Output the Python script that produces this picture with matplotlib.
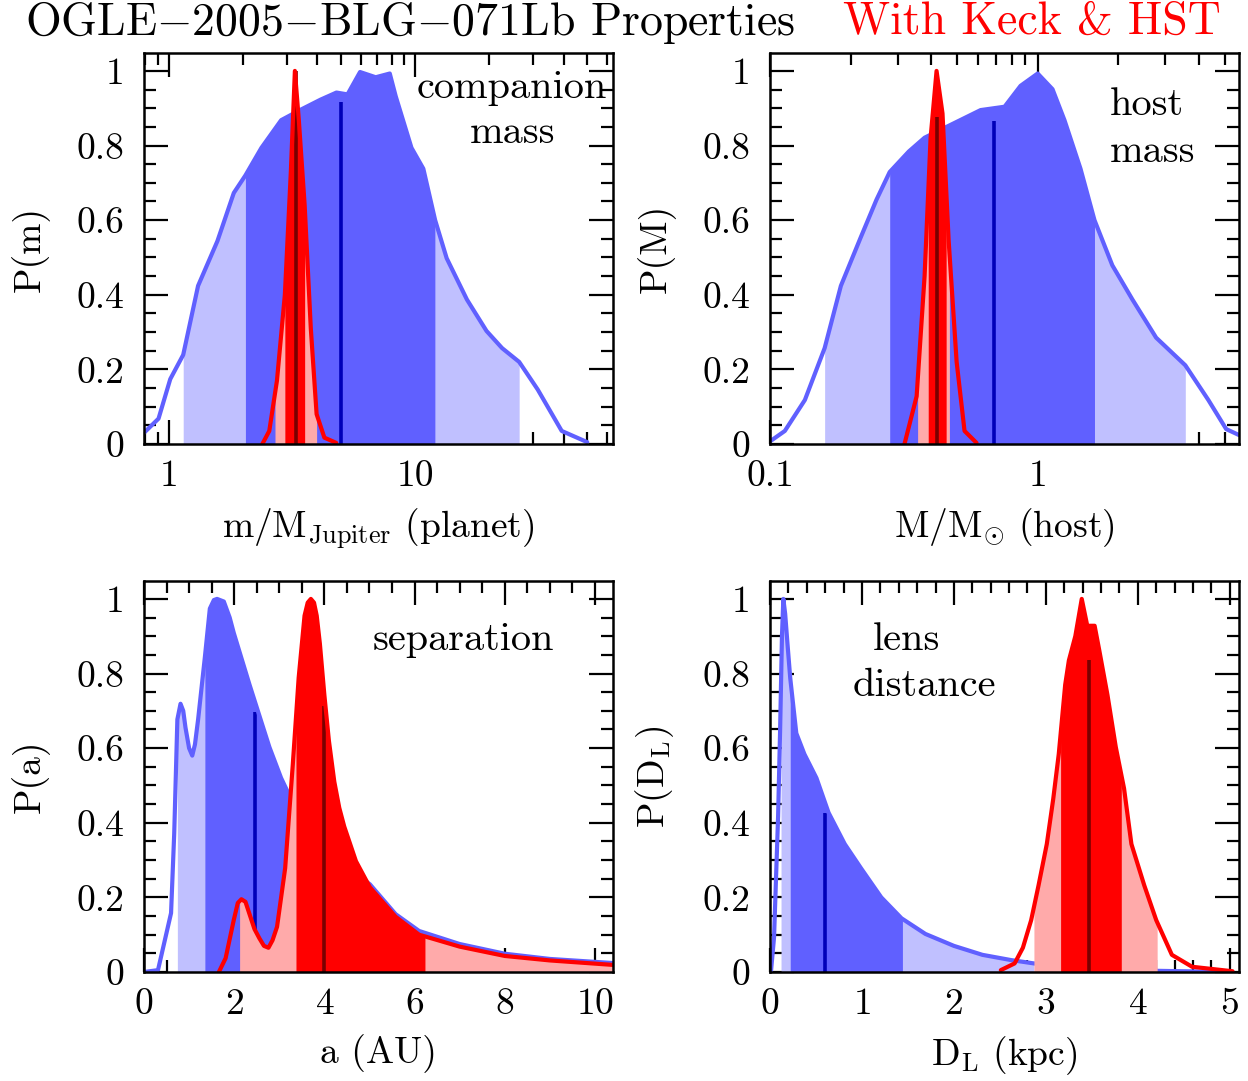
import numpy as np
import matplotlib.pyplot as plt
from matplotlib.ticker import FixedLocator, FixedFormatter, MultipleLocator, LogLocator, NullFormatter

plt.rcParams.update({
    "font.family": "cmr10",
    "mathtext.fontset": "cm",
    "axes.formatter.use_mathtext": True,
    "font.size": 27,
    "axes.linewidth": 1.8,
})

BLUE = "#6060ff"
BLUE_LIGHT = "#c0c0ff"
BLUE_MED = "#0000b8"
RED = "#ff0000"
RED_LIGHT = "#ffaaaa"
RED_MED = "#7a0000"

# ---- companion mass (M_Jupiter), prior only (blue) and with Keck & HST (red)
m_prior_x = [0.79, 0.905, 1.01, 1.14, 1.31, 1.57, 1.83, 2.04, 2.37, 2.85, 3.42, 4.12,
             4.78, 5.3, 5.96, 6.9, 7.87, 8.32, 9.64, 10.77, 12.03, 13.4, 16.2, 19.45,
             22.5, 26.4, 31.4, 39.3, 49.9]
m_prior_y = [0.03, 0.068, 0.174, 0.239, 0.424, 0.544, 0.673, 0.72, 0.794, 0.868, 0.896,
             0.923, 0.942, 0.937, 0.997, 0.983, 0.993, 0.932, 0.794, 0.738, 0.6, 0.498,
             0.387, 0.303, 0.257, 0.22, 0.146, 0.035, 0.005]
m_prior_sig1 = (2.04, 12.0)
m_prior_sig2 = (1.14, 26.4)
m_prior_med = (4.99, 0.916)
m_hst_x = [2.39, 2.55, 2.74, 2.95, 3.12, 3.24, 3.36, 3.55, 3.76, 3.97, 4.27, 4.77]
m_hst_y = [0.0, 0.035, 0.17, 0.40, 0.73, 1.0, 0.87, 0.64, 0.31, 0.08, 0.017, 0.003]
m_hst_sig1 = (2.95, 3.55)
m_hst_sig2 = (2.69, 3.97)
m_hst_med = (3.27, 1.0)

# ---- host mass (M_sun)
M_prior_x = [0.100, 0.1136, 0.135, 0.160, 0.184, 0.218, 0.25, 0.28, 0.33, 0.378, 0.481,
             0.612, 0.752, 0.863, 1.0, 1.136, 1.259, 1.445, 1.63, 1.90, 2.26, 2.77, 3.56,
             4.34, 5.06, 5.65]
M_prior_y = [0.007, 0.035, 0.118, 0.257, 0.424, 0.553, 0.655, 0.729, 0.784, 0.821, 0.858,
             0.895, 0.904, 0.96, 0.993, 0.951, 0.868, 0.738, 0.60, 0.479, 0.387, 0.285,
             0.211, 0.118, 0.04, 0.024]
M_prior_sig1 = (0.28, 1.63)
M_prior_sig2 = (0.16, 3.56)
M_prior_med = (0.685, 0.866)
M_hst_x = [0.318, 0.353, 0.378, 0.398, 0.419, 0.441, 0.465, 0.498, 0.533, 0.591]
M_hst_y = [0.0, 0.128, 0.45, 0.82, 1.0, 0.886, 0.544, 0.22, 0.035, 0.003]
M_hst_sig1 = (0.39, 0.455)
M_hst_sig2 = (0.356, 0.468)
M_hst_med = (0.422, 0.877)

# ---- separation (AU)
a_prior_x = [0.0, 0.31, 0.60, 0.67, 0.74, 0.81, 0.87, 0.92, 1.0, 1.07, 1.13, 1.2, 1.35,
             1.46, 1.55, 1.62, 1.77, 1.9, 1.99, 2.34, 2.78, 3.04, 3.26, 3.5, 4.0, 4.5,
             5.01, 5.58, 6.1, 7.0, 8.0, 9.0, 10.4]
a_prior_y = [0.0, 0.005, 0.158, 0.371, 0.677, 0.719, 0.70, 0.655, 0.60, 0.58, 0.61,
             0.677, 0.844, 0.974, 0.997, 1.0, 0.993, 0.95, 0.909, 0.77, 0.603, 0.52,
             0.464, 0.42, 0.34, 0.28, 0.235, 0.155, 0.11, 0.075, 0.049, 0.035, 0.024]
a_prior_sig1 = (1.35, 3.6)
a_prior_sig2 = (0.74, 5.6)
a_prior_med = (2.47, 0.698)
a_hst_x = [1.66, 1.81, 1.99, 2.08, 2.16, 2.25, 2.34, 2.45, 2.56, 2.66, 2.76, 2.85, 2.95,
           3.13, 3.30, 3.43, 3.56, 3.63, 3.70, 3.77, 3.83, 3.9, 4.0, 4.1, 4.22, 4.33,
           4.44, 4.70, 5.01, 5.58, 6.1, 7.0, 8.0, 9.0, 10.4]
a_hst_y = [0.0, 0.037, 0.139, 0.185, 0.195, 0.188, 0.155, 0.115, 0.09, 0.07, 0.065,
           0.085, 0.121, 0.278, 0.557, 0.789, 0.955, 0.99, 1.0, 0.99, 0.955, 0.88, 0.742,
           0.62, 0.51, 0.44, 0.39, 0.297, 0.227, 0.148, 0.1, 0.068, 0.043, 0.031, 0.019]
a_hst_sig1 = (3.37, 6.23)
a_hst_sig2 = (2.12, 10.4)
a_hst_med = (4.0, 0.714)

# ---- lens distance (kpc)
D_prior_x = [0.01, 0.044, 0.088, 0.11, 0.13, 0.145, 0.165, 0.19, 0.22, 0.286, 0.374,
             0.505, 0.637, 0.813, 0.99, 1.21, 1.43, 1.69, 2.0, 2.31, 2.62, 2.87, 3.2,
             4.0, 5.0]
D_prior_y = [0.0, 0.093, 0.417, 0.649, 0.9, 1.0, 0.96, 0.88, 0.788, 0.64, 0.584, 0.52,
             0.427, 0.343, 0.278, 0.2, 0.144, 0.102, 0.07, 0.046, 0.032, 0.023, 0.012,
             0.004, 0.0]
D_prior_sig1 = (0.22, 1.44)
D_prior_sig2 = (0.12, 2.87)
D_prior_med = (0.593, 0.427)
D_hst_x = [2.51, 2.66, 2.75, 2.84, 2.92, 3.01, 3.08, 3.14, 3.21, 3.25, 3.32, 3.39, 3.45,
           3.53, 3.58, 3.67, 3.76, 3.85, 3.93, 4.07, 4.20, 4.37, 4.59, 5.03]
D_hst_y = [0.005, 0.023, 0.065, 0.139, 0.232, 0.343, 0.464, 0.584, 0.77, 0.835, 0.9, 1.0,
           0.928, 0.928, 0.863, 0.742, 0.603, 0.492, 0.343, 0.232, 0.139, 0.046, 0.014,
           0.002]
D_hst_sig1 = (3.16, 3.82)
D_hst_sig2 = (2.87, 4.21)
D_hst_med = (3.47, 0.835)

YTICKS = [0, 0.2, 0.4, 0.6, 0.8, 1.0]
YTICKLABELS = ["0", "0.2", "0.4", "0.6", "0.8", "1"]


def _band(ax, x, y, lo, hi, color, log, z):
    x = np.asarray(x, float)
    y = np.asarray(y, float)
    lo, hi = max(lo, x[0]), min(hi, x[-1])
    t = np.log10 if log else (lambda v: v)
    inside = (x > lo) & (x < hi)
    xs = np.concatenate([[lo], x[inside], [hi]])
    ys = np.interp(t(xs), t(x), y)
    ax.fill_between(xs, 0, ys, color=color, lw=0, zorder=z)


def draw_dist(ax, x, y, sig1, sig2, med, col, light, medcol, log, z):
    _band(ax, x, y, *sig2, light, log, z)
    _band(ax, x, y, *sig1, col, log, z)
    ax.vlines(med[0], 0, med[1], color=medcol, lw=2.6, zorder=z + 0.1)
    ax.plot(x, y, color=col, lw=3.0, zorder=z + 0.2, solid_joinstyle="round",
            solid_capstyle="round")


def style(ax, xlim, log):
    ax.set_ylim(0, 1.048)
    ax.set_xlim(*xlim)
    if log:
        ax.set_xscale("log")
    ax.yaxis.set_major_locator(FixedLocator(YTICKS))
    ax.yaxis.set_major_formatter(FixedFormatter(YTICKLABELS))
    ax.yaxis.set_minor_locator(MultipleLocator(0.05))
    ax.tick_params(which="both", direction="in", top=True, right=True, width=1.6)
    ax.tick_params(which="major", length=17)
    ax.tick_params(which="minor", length=8.5)
    ax.tick_params(axis="y", pad=14)
    ax.tick_params(axis="x", pad=11)
    for s in ax.spines.values():
        s.set_zorder(10)


fig = plt.figure(figsize=(12.48, 10.81), dpi=100)
W, H = 1248, 1081
boxes = [(144, 53), (770, 53), (144, 581), (770, 581)]
axes = []
for (px, py) in boxes:
    axes.append(fig.add_axes([px / W, 1 - (py + 391) / H, 469 / W, 391 / H]))
ax1, ax2, ax3, ax4 = axes
NOTE = 29

# panel 1: companion mass
draw_dist(ax1, m_prior_x, m_prior_y, m_prior_sig1, m_prior_sig2, m_prior_med,
          BLUE, BLUE_LIGHT, BLUE_MED, True, 2)
draw_dist(ax1, m_hst_x, m_hst_y, m_hst_sig1, m_hst_sig2, m_hst_med,
          RED, RED_LIGHT, RED_MED, True, 3)
style(ax1, (0.79, 63.5), True)
ax1.xaxis.set_major_locator(FixedLocator([1, 10]))
ax1.xaxis.set_major_formatter(FixedFormatter(["1", "10"]))
ax1.xaxis.set_minor_locator(LogLocator(base=10, subs=np.arange(2, 10)))
ax1.xaxis.set_minor_formatter(NullFormatter())
ax1.set_xlabel(r"m/M$_{\rm Jupiter}$ (planet)")
ax1.set_ylabel("P(m)")
ax1.text(0.785, 0.91, "companion", transform=ax1.transAxes, ha="center", va="center",
         fontsize=NOTE, zorder=11)
ax1.text(0.785, 0.795, "mass", transform=ax1.transAxes, ha="center", va="center",
         fontsize=NOTE, zorder=11)

# panel 2: host mass
draw_dist(ax2, M_prior_x, M_prior_y, M_prior_sig1, M_prior_sig2, M_prior_med,
          BLUE, BLUE_LIGHT, BLUE_MED, True, 2)
draw_dist(ax2, M_hst_x, M_hst_y, M_hst_sig1, M_hst_sig2, M_hst_med,
          RED, RED_LIGHT, RED_MED, True, 3)
style(ax2, (0.1, 5.65), True)
ax2.xaxis.set_major_locator(FixedLocator([0.1, 1]))
ax2.xaxis.set_major_formatter(FixedFormatter(["0.1", "1"]))
ax2.xaxis.set_minor_locator(LogLocator(base=10, subs=np.arange(2, 10)))
ax2.xaxis.set_minor_formatter(NullFormatter())
ax2.set_xlabel(r"M/M$_{\odot}$ (host)")
ax2.set_ylabel("P(M)")
ax2.text(0.725, 0.867, "host", transform=ax2.transAxes, ha="left", va="center",
         fontsize=NOTE, zorder=11)
ax2.text(0.725, 0.747, "mass", transform=ax2.transAxes, ha="left", va="center",
         fontsize=NOTE, zorder=11)

# panel 3: separation
draw_dist(ax3, a_prior_x, a_prior_y, a_prior_sig1, a_prior_sig2, a_prior_med,
          BLUE, BLUE_LIGHT, BLUE_MED, False, 2)
draw_dist(ax3, a_hst_x, a_hst_y, a_hst_sig1, a_hst_sig2, a_hst_med,
          RED, RED_LIGHT, RED_MED, False, 3)
style(ax3, (0, 10.4), False)
ax3.xaxis.set_major_locator(MultipleLocator(2))
ax3.xaxis.set_minor_locator(MultipleLocator(0.5))
ax3.set_xlabel("a (AU)")
ax3.set_ylabel("P(a)")
ax3.text(0.682, 0.849, "separation", transform=ax3.transAxes, ha="center", va="center",
         fontsize=NOTE, zorder=11)

# panel 4: lens distance
draw_dist(ax4, D_prior_x, D_prior_y, D_prior_sig1, D_prior_sig2, D_prior_med,
          BLUE, BLUE_LIGHT, BLUE_MED, False, 2)
draw_dist(ax4, D_hst_x, D_hst_y, D_hst_sig1, D_hst_sig2, D_hst_med,
          RED, RED_LIGHT, RED_MED, False, 3)
style(ax4, (0, 5.1), False)
ax4.xaxis.set_major_locator(MultipleLocator(1))
ax4.xaxis.set_minor_locator(MultipleLocator(0.2))
ax4.set_xlabel(r"D$_{\rm L}$ (kpc)")
ax4.set_ylabel(r"P(D$_{\rm L}$)")
ax4.text(0.29, 0.849, "lens", transform=ax4.transAxes, ha="center", va="center",
         fontsize=NOTE, zorder=11)
ax4.text(0.33, 0.731, "distance", transform=ax4.transAxes, ha="center", va="center",
         fontsize=NOTE, zorder=11)

for ax in axes:
    ax.xaxis.set_label_coords(0.5, -0.16)
    ax.xaxis.label.set_va("top")
    ax.yaxis.set_label_coords(-0.2, 0.5)

fig.text(25 / W, 1 - 22 / H, r"OGLE$-$2005$-$BLG$-$071Lb Properties", fontsize=33,
         ha="left", va="center")
fig.text(843 / W, 1 - 22 / H, "With Keck & HST", fontsize=33, color=RED,
         ha="left", va="center")

fig.savefig("out.png", dpi=100, facecolor="white")
